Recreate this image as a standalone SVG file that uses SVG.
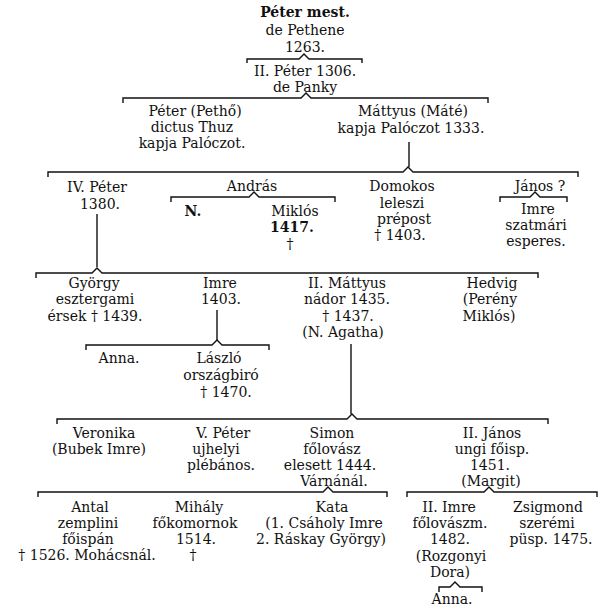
<svg xmlns="http://www.w3.org/2000/svg" width="609" height="611" viewBox="0 0 609 611">
<style>
text{font-family:"DejaVu Serif","Liberation Serif",serif;font-size:14px;fill:#111;text-anchor:middle}
.b{font-weight:bold}
.br{fill:none;stroke:#111;stroke-width:1.4}
.ln{stroke:#111;stroke-width:1.4}
</style>
<rect width="609" height="611" fill="#ffffff"/>
<g id="connectors">
<path class="br" d="M247 63 V59 H299 L304 54 L309 59 H362 V63"/>
<path class="br" d="M123 103 V98 H301 L306 93 L311 98 H488 V103"/>
<line class="ln" x1="409" y1="142" x2="409" y2="167"/>
<path class="br" d="M48 177 V172 H403 L408 167 L413 172 H578 V177"/>
<path class="br" d="M171 202 V197 H249 L254 192 L259 197 H335 V202"/>
<path class="br" d="M500 202 V197 H530 L535 192 L540 197 H567 V202"/>
<line class="ln" x1="97" y1="214" x2="97" y2="267"/>
<path class="br" d="M36 278 V273 H92 L97 268 L102 273 H538 V278"/>
<line class="ln" x1="217" y1="310" x2="217" y2="340"/>
<path class="br" d="M86 350 V345 H212 L217 340 L222 345 H269 V350"/>
<line class="ln" x1="351" y1="344" x2="351" y2="414"/>
<path class="br" d="M57 424 V419 H347 L352 414 L357 419 H548 V424"/>
<path class="br" d="M38 497 V492 H323 L328 487 L333 492 H387 V497"/>
<path class="br" d="M407 497 V492 H484 L489 487 L494 492 H597 V497"/>
<path class="br" d="M439 592 V587 H450 L455 582 L460 587 H482 V592"/>
</g>
<g id="n-peter-mest"><text class="b" x="305" y="17">Péter mest.</text><text x="305" y="35">de Pethene</text><text x="305" y="52">1263.</text></g>
<g id="n-peter-ii"><text x="305" y="76">II. Péter 1306.</text><text x="305" y="92">de Panky</text></g>
<g id="n-peter-petho"><text x="195" y="116">Péter (Pethő)</text><text x="192" y="132">dictus Thuz</text><text x="192" y="148">kapja Palóczot.</text></g>
<g id="n-mattyus"><text x="413" y="116">Máttyus (Máté)</text><text x="411" y="133">kapja Palóczot 1333.</text></g>
<g id="n-peter-iv"><text x="97" y="192">IV. Péter</text><text x="100" y="209">1380.</text></g>
<g id="n-andras"><text x="252" y="191">András</text></g>
<g id="n-n"><text class="b" x="193" y="216">N.</text></g>
<g id="n-miklos"><text x="295" y="216">Miklós</text><text class="b" x="292" y="232">1417.</text><text x="290" y="249">†</text></g>
<g id="n-domokos"><text x="402" y="191">Domokos</text><text x="402" y="208">leleszi</text><text x="404" y="224">prépost</text><text x="400" y="240">† 1403.</text></g>
<g id="n-janos"><text x="540" y="191">János ?</text></g>
<g id="n-imre-szatmari"><text x="538" y="214">Imre</text><text x="536" y="230">szatmári</text><text x="536" y="246">esperes.</text></g>
<g id="n-gyorgy"><text x="94" y="288">György</text><text x="95" y="304">esztergami</text><text x="95" y="321">érsek † 1439.</text></g>
<g id="n-imre-1403"><text x="220" y="288">Imre</text><text x="221" y="304">1403.</text></g>
<g id="n-anna1"><text x="119" y="363">Anna.</text></g>
<g id="n-laszlo"><text x="219" y="363">László</text><text x="221" y="380">országbiró</text><text x="226" y="397">† 1470.</text></g>
<g id="n-mattyus-ii"><text x="347" y="288">II. Máttyus</text><text x="347" y="304">nádor 1435.</text><text x="348" y="321">† 1437.</text><text x="343" y="337">(N. Agatha)</text></g>
<g id="n-hedvig"><text x="492" y="288">Hedvig</text><text x="490" y="304">(Perény</text><text x="489" y="321">Miklós)</text></g>
<g id="n-veronika"><text x="104" y="438">Veronika</text><text x="99" y="454">(Bubek Imre)</text></g>
<g id="n-peter-v"><text x="223" y="438">V. Péter</text><text x="216" y="454">ujhelyi</text><text x="221" y="470">plébános.</text></g>
<g id="n-simon"><text x="332" y="438">Simon</text><text x="332" y="454">főlovász</text><text x="330" y="470">elesett 1444.</text><text x="334" y="486">Várnánál.</text></g>
<g id="n-janos-ii"><text x="492" y="438">II. János</text><text x="492" y="454">ungi főisp.</text><text x="490" y="470">1451.</text><text x="491" y="486">(Margit)</text></g>
<g id="n-antal"><text x="90" y="512">Antal</text><text x="88" y="528">zemplini</text><text x="88" y="544">főispán</text><text x="87" y="560">† 1526. Mohácsnál.</text></g>
<g id="n-mihaly"><text x="199" y="512">Mihály</text><text x="195" y="528">főkomornok</text><text x="196" y="544">1514.</text><text x="193" y="560">†</text></g>
<g id="n-kata"><text x="332" y="512">Kata</text><text x="324" y="528">(1. Csáholy Imre</text><text x="321" y="544">2. Ráskay György)</text></g>
<g id="n-imre-ii"><text x="449" y="512">II. Imre</text><text x="450" y="528">főlovászm.</text><text x="450" y="544">1482.</text><text x="451" y="561">(Rozgonyi</text><text x="450" y="577">Dora)</text></g>
<g id="n-anna2"><text x="452" y="604">Anna.</text></g>
<g id="n-zsigmond"><text x="548" y="512">Zsigmond</text><text x="547" y="528">szerémi</text><text x="551" y="544">püsp. 1475.</text></g>
</svg>
